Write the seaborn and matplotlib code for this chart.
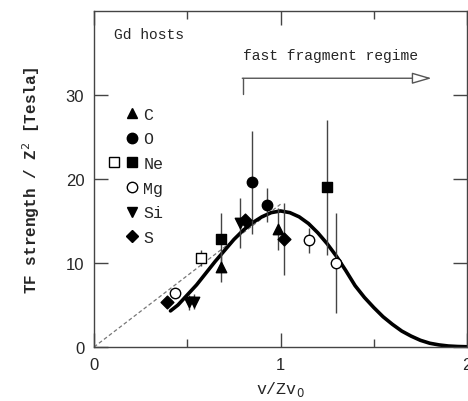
import numpy as np
import pandas as pd
import matplotlib
matplotlib.use("Agg")
import matplotlib.pyplot as plt
import seaborn as sns
from matplotlib.lines import Line2D
from matplotlib.legend_handler import HandlerTuple

# measured points (v/Zv0, TF strength / Z^2, error)
c_x = [0.683, 0.987]
c_y = [9.5, 14.0]
c_err = [1.8, 2.5]

o_x = [0.848, 0.928]
o_y = [19.6, 16.9]
o_err = [6.1, 2.0]

ne_x = [0.683, 1.251]
ne_y = [12.9, 19.0]
ne_err = [3.1, 8.0]

ne_open_x = [0.574]
ne_open_y = [10.6]
ne_open_err = [0.9]

mg_x = [0.435, 1.152, 1.30]
mg_y = [6.4, 12.7, 10.0]
mg_err = [0.0, 1.5, 5.9]

si_x = [0.51, 0.535, 0.785]
si_y = [5.3, 5.4, 14.8]
si_err = [0.9, 0.9, 3.0]

s_x = [0.39, 0.81, 1.018]
s_y = [5.3, 15.1, 12.9]
s_err = [0.0, 0.0, 4.3]

# model curve
curve_x = [0.41, 0.45, 0.50, 0.55, 0.60, 0.65, 0.70, 0.75, 0.80, 0.85, 0.90, 0.95,
           1.00, 1.05, 1.10, 1.15, 1.20, 1.25, 1.30, 1.35, 1.40, 1.45, 1.50, 1.55,
           1.60, 1.65, 1.70, 1.75, 1.80, 1.85, 1.90, 1.95, 2.00]
curve_y = [4.3, 5.0, 6.2, 7.4, 8.8, 10.2, 11.5, 12.8, 13.9, 14.8, 15.5, 16.0,
           16.2, 16.0, 15.5, 14.7, 13.6, 12.3, 10.8, 9.1, 7.3, 5.9, 4.7, 3.6,
           2.7, 1.9, 1.3, 0.8, 0.45, 0.25, 0.12, 0.06, 0.03]

# linear guide
guide_x = [0.0, 1.0]
guide_y = [0.0, 17.0]

sns.set_style("ticks")
plt.rcParams['font.family'] = ['Liberation Mono', 'DejaVu Sans']
mono = 'Liberation Mono'
sans = 'Liberation Sans'

fig = plt.figure(figsize=(4.68, 4.02), dpi=100)
ax = fig.add_axes([0.2009, 0.1343, 0.797, 0.8357])

sns.lineplot(x=guide_x, y=guide_y, ax=ax, color='#777777', lw=0.9,
             linestyle=(0, (3, 2)), zorder=1)
sns.lineplot(x=curve_x, y=curve_y, ax=ax, color='black', lw=2.6, zorder=2)

groups = [
    (c_x, c_y, c_err, '^', 'black', 7.5),
    (o_x, o_y, o_err, 'o', 'black', 7.5),
    (ne_x, ne_y, ne_err, 's', 'black', 6.5),
    (ne_open_x, ne_open_y, ne_open_err, 's', 'white', 6.5),
    (mg_x, mg_y, mg_err, 'o', 'white', 7.5),
    (si_x, si_y, si_err, 'v', 'black', 7.5),
    (s_x, s_y, s_err, 'D', 'black', 6.5),
]
for gx, gy, ge, mk, fc, ms in groups:
    ax.errorbar(gx, gy, yerr=ge, fmt='none', ecolor='#444444', elinewidth=1.0,
                capsize=0, zorder=3)
    sns.scatterplot(x=gx, y=gy, ax=ax, marker=mk, s=ms ** 2, color=fc,
                    edgecolor='black', linewidth=1.0, zorder=4)

ax.set_xlim(0, 2)
ax.set_ylim(0, 40)
ax.set_xticks([0, 1, 2])
ax.set_xticks([0.5, 1.5], minor=True)
ax.set_yticks([0, 10, 20, 30])
ax.tick_params(which='both', direction='in', top=True, right=True,
               color='#444444', width=1.0)
ax.tick_params(which='major', length=10, pad=7)
ax.tick_params(which='minor', length=6)
for lab in ax.get_xticklabels() + ax.get_yticklabels():
    lab.set_fontfamily(sans)
    lab.set_fontsize(12)
for sp in ax.spines.values():
    sp.set_color('#444444')
    sp.set_linewidth(1.0)

ax.set_xlabel('v/Zv$_0$', fontsize=12, family=mono, labelpad=5)
ax.set_ylabel('TF strength / Z$^2$ [Tesla]', fontsize=11.5, family=mono,
              fontweight='bold', labelpad=17)

ax.text(0.105, 37.3, 'Gd hosts', fontsize=10.5, family=mono, va='center')
ax.text(0.80, 34.8, 'fast fragment regime', fontsize=10.5, family=mono,
        va='center')
ax.plot([0.80, 0.80], [30.1, 32.0], color='#555555', lw=1.0)
ax.annotate('', xy=(1.81, 32.0), xytext=(0.795, 32.0),
            arrowprops=dict(arrowstyle='-|>,head_length=1.2,head_width=0.35',
                            color='#555555', fc='white', lw=1.0,
                            shrinkA=0, shrinkB=0))

blank = Line2D([], [], linestyle='none')


def mark(m, fc, ms):
    return Line2D([], [], linestyle='none', marker=m, markersize=ms,
                  markerfacecolor=fc, markeredgecolor='black')


handles = [
    (blank, mark('^', 'black', 7.5)),
    (blank, mark('o', 'black', 7.5)),
    (mark('s', 'white', 6.5), mark('s', 'black', 6.5)),
    (blank, mark('o', 'white', 7.5)),
    (blank, mark('v', 'black', 7.5)),
    (blank, mark('D', 'black', 6.5)),
]
labels = ['C', 'O', 'Ne', 'Mg', 'Si', 'S']
ax.legend(handles, labels, handler_map={tuple: HandlerTuple(ndivide=None, pad=0.3)},
          loc='upper left', bbox_to_anchor=(0.019, 0.735), frameon=False,
          prop={'family': mono, 'size': 12}, handlelength=1.83,
          handletextpad=0.3, labelspacing=0.58, borderaxespad=0)

fig.savefig('out.png', dpi=100)
